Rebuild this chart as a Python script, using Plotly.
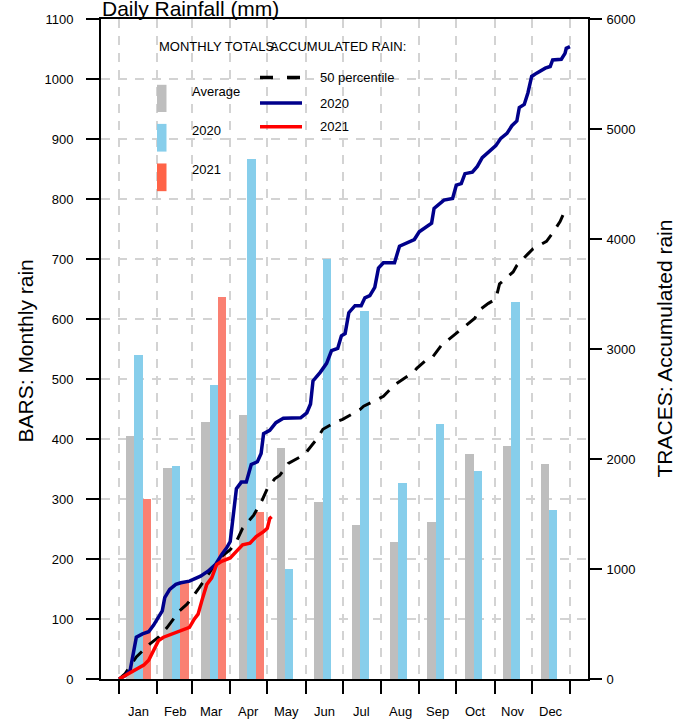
import plotly.graph_objects as go

# ---------------- data ----------------
months = ["Jan", "Feb", "Mar", "Apr", "May", "Jun", "Jul", "Aug", "Sep", "Oct", "Nov", "Dec"]
month_start_day = [0, 31, 59, 90, 120, 151, 181, 212, 243, 273, 304, 334, 365]

avg_monthly = [405, 352, 429, 440, 385, 295, 257, 229, 261, 375, 389, 358]
rain_2020 = [540, 355, 490, 866, 183, 700, 614, 327, 425, 347, 628, 282]
rain_2021 = [300, 164, 637, 278, None, None, None, None, None, None, None, None]

# accumulated rain (day of year, mm)
acc2020_day = [0, 5, 9, 12, 14, 19, 24, 28, 31, 35, 37, 41, 46, 50, 57, 62, 66, 72, 78, 83, 87, 90, 92, 95,
               99, 103, 107, 112, 115, 117, 122, 127, 133, 147, 152, 155, 157, 163, 168, 172, 177, 180,
               183, 186, 191, 196, 199, 203, 207, 210, 214, 223, 227, 233, 239, 243, 249, 253, 255, 260,
               263, 270, 273, 277, 280, 286, 290, 294, 300, 305, 309, 314, 318, 322, 324, 328, 331, 334,
               338, 345, 349, 351, 358, 361, 362, 365]
acc2020_val = [0, 30, 80, 280, 380, 410, 430, 490, 540, 620, 740, 815, 860, 875, 890, 915, 935, 980, 1040,
               1130, 1190, 1250, 1420, 1730, 1790, 1790, 1950, 1975, 2050, 2230, 2260, 2330, 2370, 2375,
               2420, 2500, 2710, 2790, 2870, 2985, 3005, 3120, 3140, 3330, 3394, 3394, 3465, 3485, 3560,
               3735, 3784, 3784, 3935, 3965, 3995, 4065, 4108, 4144, 4279, 4330, 4354, 4369, 4489, 4504,
               4594, 4608, 4660, 4740, 4795, 4849, 4915, 4960, 5030, 5073, 5195, 5223, 5330, 5478, 5508,
               5553, 5568, 5628, 5634, 5688, 5733, 5748]

p50_day = [0, 5, 14, 25, 32, 39, 49, 55, 65, 74, 83, 90, 95, 100, 109, 116, 120, 126, 130, 137, 150, 155,
           160, 165, 176, 181, 195, 198, 208, 214, 223, 227, 239, 241, 250, 254, 262, 266, 276, 281, 288,
           291, 299, 305, 308, 319, 322, 331, 335, 346, 350, 357, 360, 364]
p50_val = [0, 50, 200, 320, 380, 470, 620, 680, 830, 980, 1115, 1175, 1250, 1370, 1490, 1630, 1730, 1820,
           1850, 1960, 2040, 2110, 2180, 2270, 2340, 2360, 2450, 2480, 2540, 2570, 2674, 2705, 2795, 2825,
           2914, 2930, 3049, 3079, 3169, 3214, 3280, 3349, 3415, 3454, 3592, 3700, 3760, 3865, 3910, 3979,
           4039, 4159, 4234, 4290]

acc2021_day = [0, 6, 12, 20, 24, 29, 32, 36, 43, 47, 53, 57, 61, 64, 67, 71, 75, 79, 83, 90, 95, 100, 106,
               111, 117, 120, 122, 123.5]
acc2021_val = [0, 36, 80, 126, 170, 290, 350, 380, 410, 426, 456, 470, 546, 590, 710, 860, 920, 1040, 1070,
               1100, 1160, 1220, 1235, 1295, 1340, 1370, 1460, 1475]

left_ticks = list(range(0, 1101, 100))
right_ticks = list(range(0, 6001, 1000))

# ---------------- layout constants ----------------
W, H = 690, 719
L, R, T, B = 101, 588, 12, 679
PW, PH = R - L, B - T
FONT = "Liberation Sans, Arial, Helvetica, sans-serif"

# bar geometry (group of 3 bars, beside, space 1.5 bar widths)
BAR_DAYS = 6.785
BAR_ORIGIN = -4.758


def bar_center(month_idx, k):
    u = 2 + 4.5 * month_idx + k
    return BAR_ORIGIN + BAR_DAYS * u


def px(xp):
    return (xp - L) / PW


def py(yp):
    return (B - yp) / PH


C_AVG = "#BEBEBE"
C_2020 = "#87CEEB"
C_2021 = "#FA8072"
C_2021_LEG = "#FF6347"

fig = go.Figure()

for vals, k, col, name in [(avg_monthly, 0, C_AVG, "Average"),
                           (rain_2020, 1, C_2020, "2020"),
                           (rain_2021, 2, C_2021, "2021")]:
    fig.add_trace(go.Bar(
        x=[bar_center(i, k) for i in range(12)], y=vals, width=BAR_DAYS,
        marker=dict(color=col, line=dict(width=0)), name=name,
        xaxis="x", yaxis="y", showlegend=False, hoverinfo="skip"))

fig.add_trace(go.Scatter(x=p50_day, y=p50_val, mode="lines", yaxis="y2",
                         line=dict(color="black", width=3, dash="13px,10px"),
                         showlegend=False, hoverinfo="skip"))
fig.add_trace(go.Scatter(x=acc2020_day, y=acc2020_val, mode="lines", yaxis="y2",
                         line=dict(color="#00008B", width=3.5, shape="linear"),
                         showlegend=False, hoverinfo="skip"))
fig.add_trace(go.Scatter(x=acc2021_day, y=acc2021_val, mode="lines", yaxis="y2",
                         line=dict(color="#FF0000", width=3.5),
                         showlegend=False, hoverinfo="skip"))

axis_common = dict(ticks="outside", ticklen=13, tickwidth=2, tickcolor="black",
                   linecolor="black", linewidth=2, zeroline=False,
                   tickfont=dict(family=FONT, size=13, color="black"))

fig.update_layout(
    width=W, height=H,
    margin=dict(l=L, r=W - R, t=T, b=H - B, pad=0),
    paper_bgcolor="white", plot_bgcolor="white",
    barmode="overlay", bargap=0,
    font=dict(family=FONT, size=13, color="black"),
    xaxis=dict(range=[-14.6, 379.6], tickvals=month_start_day, showticklabels=False,
               showline=True, mirror=True, showgrid=True, gridcolor="#D3D3D3",
               gridwidth=1.6, griddash="9px,8px", **axis_common),
    yaxis=dict(range=[0, 1100], tickvals=left_ticks, showline=True, mirror=True,
               showgrid=True, gridcolor="#D3D3D3", gridwidth=1.6, griddash="9px,8px",
               ticklabelstandoff=10, **axis_common),
    yaxis2=dict(range=[0, 6000], tickvals=right_ticks, overlaying="y", side="right",
                showline=False, showgrid=False, ticklabelstandoff=2, **axis_common),
)

ann = []
# month labels
for i, m in enumerate(months):
    mid = (month_start_day[i] + month_start_day[i + 1]) / 2
    ann.append(dict(x=mid, y=py(712), xref="x", yref="paper", text=m, showarrow=False,
                    xanchor="center", yanchor="middle", font=dict(size=13)))

# title (partly cut off at top, as in the reference)
ann.append(dict(x=px(100), y=py(1), xref="paper", yref="paper", text="Daily Rainfall (mm)",
                showarrow=False, xanchor="left", yanchor="middle", font=dict(size=21)))
# axis titles
ann.append(dict(x=px(25), y=py(348), xref="paper", yref="paper", text="BARS: Monthly rain",
                textangle=-90, showarrow=False, xanchor="center", yanchor="middle", font=dict(size=21)))
ann.append(dict(x=px(665), y=py(345), xref="paper", yref="paper", text="TRACES: Accumulated rain",
                textangle=-90, showarrow=False, xanchor="center", yanchor="middle", font=dict(size=21)))

# legend texts
for txt, xx, yy in [("MONTHLY TOTALS:", 157, 39.5), ("ACCUMULATED RAIN:", 268, 39.5),
                    ("Average", 190, 85), ("2020", 190, 125), ("2021", 190, 164.5),
                    ("50 percentile", 318, 71.5), ("2020", 318, 97), ("2021", 318, 121)]:
    ann.append(dict(x=px(xx), y=py(yy), xref="paper", yref="paper", text=txt, showarrow=False,
                    xanchor="left", yanchor="middle", font=dict(size=13)))

shapes = []
for col, y0, y1 in [(C_AVG, 78.5, 106), (C_2020, 118, 146), (C_2021_LEG, 158, 186)]:
    shapes.append(dict(type="rect", xref="paper", yref="paper", x0=px(157), x1=px(166.5),
                       y0=py(y1), y1=py(y0), fillcolor=col, line=dict(width=0)))
for col, yy, dash in [("black", 71, "13px,14px"), ("#00008B", 97, "solid"), ("#FF0000", 121, "solid")]:
    shapes.append(dict(type="line", xref="paper", yref="paper", x0=px(260), x1=px(302),
                       y0=py(yy), y1=py(yy), line=dict(color=col, width=3.5, dash=dash)))

fig.update_layout(annotations=ann, shapes=shapes)

fig.write_html("out.html",
               config={"displayModeBar": False},
               post_script="document.body.style.margin='0';document.body.style.overflow='hidden';")
